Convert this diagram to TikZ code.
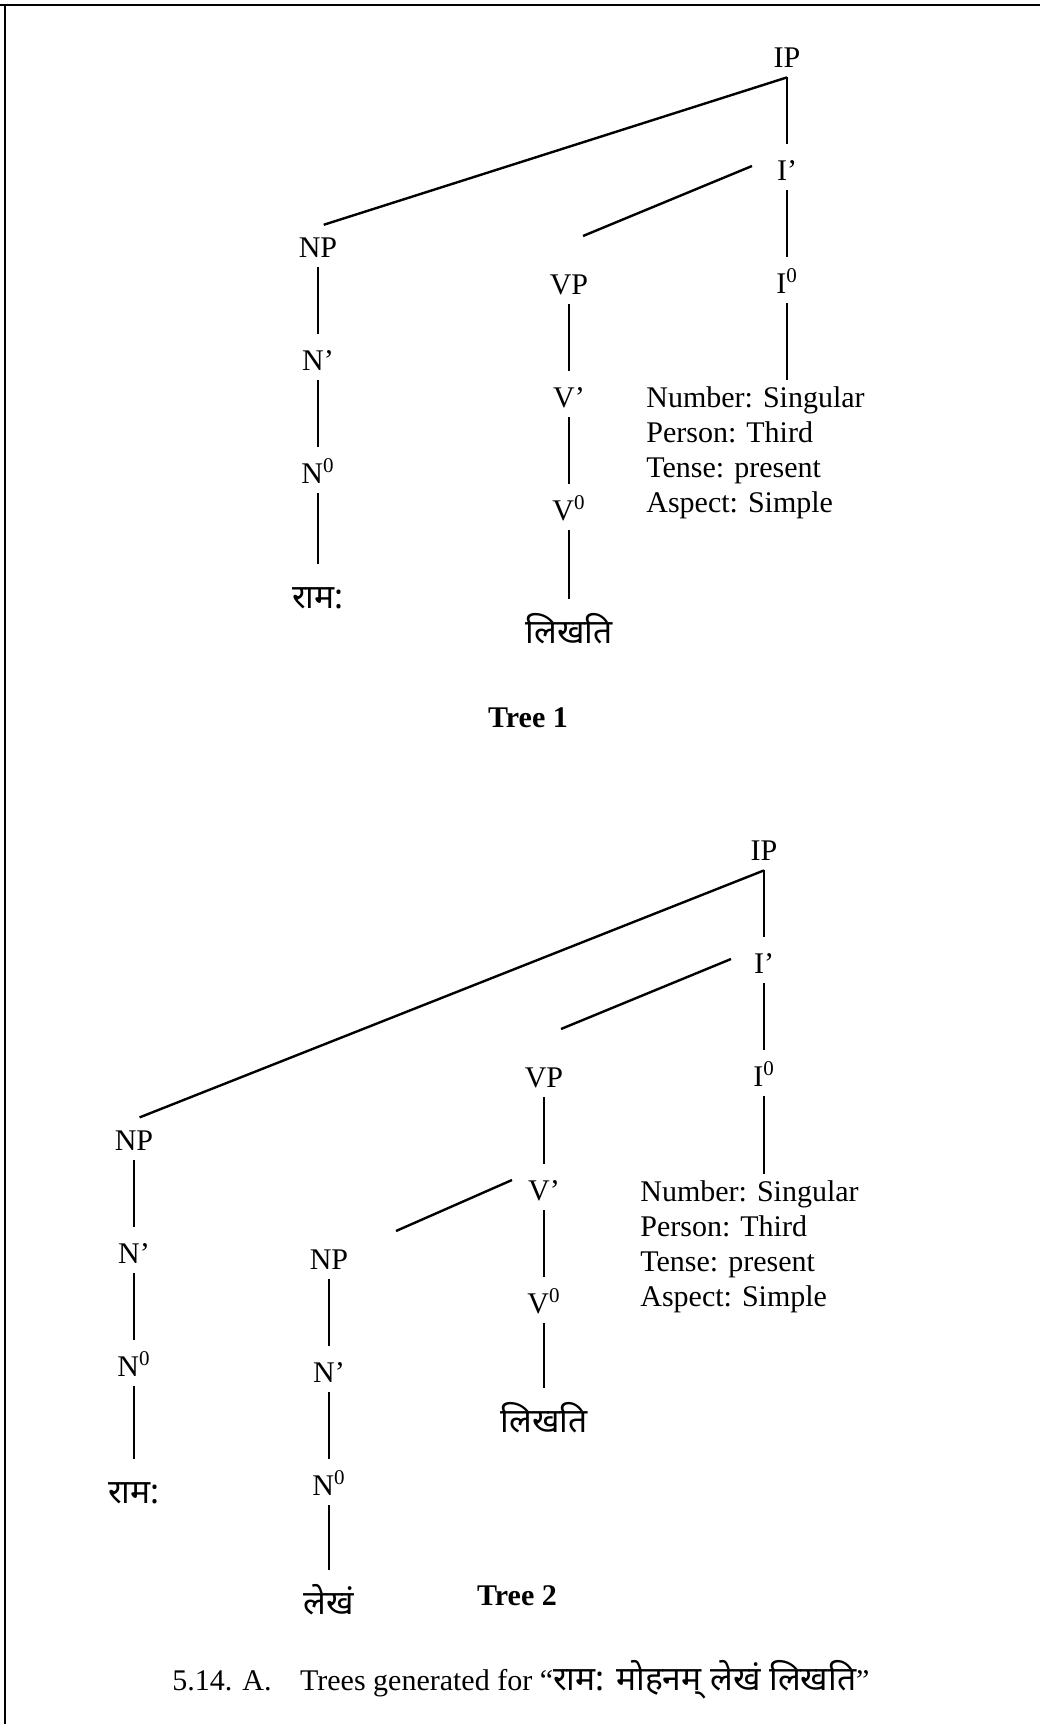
\documentclass[tikz,border=0pt]{standalone}
\usepackage{fontspec}
\setmainfont{Liberation Serif}
\newfontfamily\devfont[Script=Devanagari,Scale=1.12]{Noto Sans}
\usetikzlibrary{positioning}

\begin{document}
\begin{tikzpicture}[x=0.5pt, y=-0.5pt, node distance=56.5pt, font=\fontsize{15}{17.5}\selectfont]
\tikzstyle{cat} = [inner xsep=2pt, inner ysep=5pt, text height=10pt, text depth=0pt]
\tikzstyle{word} = [inner xsep=2pt, inner ysep=9pt, text height=10pt, text depth=0pt, font=\fontsize{15}{17.5}\selectfont\devfont]
\tikzstyle{feat} = [inner sep=0pt, anchor=north west, align=left]
\tikzstyle{title} = [font=\fontsize{15}{17.5}\selectfont\bfseries]
\tikzstyle{branch} = [draw, line width=1.2pt, shorten >=3pt]

\useasboundingbox (0,0) rectangle (1040,1724);
% frame of the scanned page, top and left edge only
\draw [line width=1.4pt] (0,5) -- (1040,5);
\draw [line width=1.4pt] (5,5) -- (5,1724);

% Tree 1
\node [cat] (IP1) at (787,57) {IP};
\node [cat, below of=IP1] (I1bar) {I'};
\node [cat, below of=I1bar] (I01) {I\textsuperscript{0}};
\node [feat] (Feat1) at (646,386) {Number: Singular\\Person: Third\\Tense: present\\Aspect: Simple};

\node [cat] (NP1) at (318,247) {NP};
\node [cat, below of=NP1] (N1bar) {N'};
\node [cat, below of=N1bar] (N01) {N\textsuperscript{0}};
\node [word, below of=N01, yshift=-6pt] (Ram1) {राम:};

\node [cat] (VP1) at (569,284) {VP};
\node [cat, below of=VP1] (V1bar) {V'};
\node [cat, below of=V1bar] (V01) {V\textsuperscript{0}};
\node [word, below of=V01, yshift=-5pt] (Likh1) {लिखति};

\node [title] (T1) at (528,718) {Tree 1};

\path [branch] (IP1.south) -- (NP1.north);
\path [branch] (IP1.south) -- (I1bar.north);
\path [branch] (I1bar) -- (I01);
\path [branch] (I01.south) -- (I01.south |- Feat1.north);
\path [branch, shorten >=0pt] ([shift={(-35,-4)}]I1bar.center) -- ([shift={(14,-48)}]VP1.center);
\path [branch] (NP1) -- (N1bar);
\path [branch] (N1bar) -- (N01);
\path [branch] (N01) -- (Ram1);
\path [branch] (VP1) -- (V1bar);
\path [branch] (V1bar) -- (V01);
\path [branch] (V01) -- (Likh1);

% Tree 2
\node [cat] (IP2) at (764,850) {IP};
\node [cat, below of=IP2] (I2bar) {I'};
\node [cat, below of=I2bar] (I02) {I\textsuperscript{0}};
\node [feat] (Feat2) at (640,1180) {Number: Singular\\Person: Third\\Tense: present\\Aspect: Simple};

\node [cat] (VP2) at (544,1077) {VP};
\node [cat, below of=VP2] (V2bar) {V'};
\node [cat, below of=V2bar] (V02) {V\textsuperscript{0}};
\node [word, below of=V02, yshift=-3pt] (Likh2) {लिखति};

\node [cat] (NP2) at (134,1140) {NP};
\node [cat, below of=NP2] (N2bar) {N'};
\node [cat, below of=N2bar] (N02) {N\textsuperscript{0}};
\node [word, below of=N02, yshift=-7pt] (Ram2) {राम:};

\node [cat] (NP3) at (329,1259) {NP};
\node [cat, below of=NP3] (N3bar) {N'};
\node [cat, below of=N3bar] (N03) {N\textsuperscript{0}};
\node [word, below of=N03, yshift=-3pt] (Lekh3) {लेखं};

\node [title] (T2) at (517,1596) {Tree 2};

\path [branch] (IP2.south) -- (NP2.north);
\path [branch] (IP2.south) -- (I2bar.north);
\path [branch] (I2bar) -- (I02);
\path [branch] (I02.south) -- (I02.south |- Feat2.north);
\path [branch, shorten >=0pt] ([shift={(-33,-4)}]I2bar.center) -- ([shift={(17,-48)}]VP2.center);
\path [branch] (VP2) -- (V2bar);
\path [branch] (V2bar) -- (V02);
\path [branch] (V02) -- (Likh2);
\path [branch, shorten >=0pt] ([shift={(-32,-10)}]V2bar.center) -- ([shift={(67,-28)}]NP3.center);
\path [branch] (NP2) -- (N2bar);
\path [branch] (N2bar) -- (N02);
\path [branch] (N02) -- (Ram2);
\path [branch] (NP3) -- (N3bar);
\path [branch] (N3bar) -- (N03);
\path [branch] (N03) -- (Lekh3);

% caption
\node (Caption) at (521,1680) {5.14. A.\hspace{0.7em} Trees generated for “{\devfont राम: मोहनम् लेखं लिखति}”};
\end{tikzpicture}
\end{document}
